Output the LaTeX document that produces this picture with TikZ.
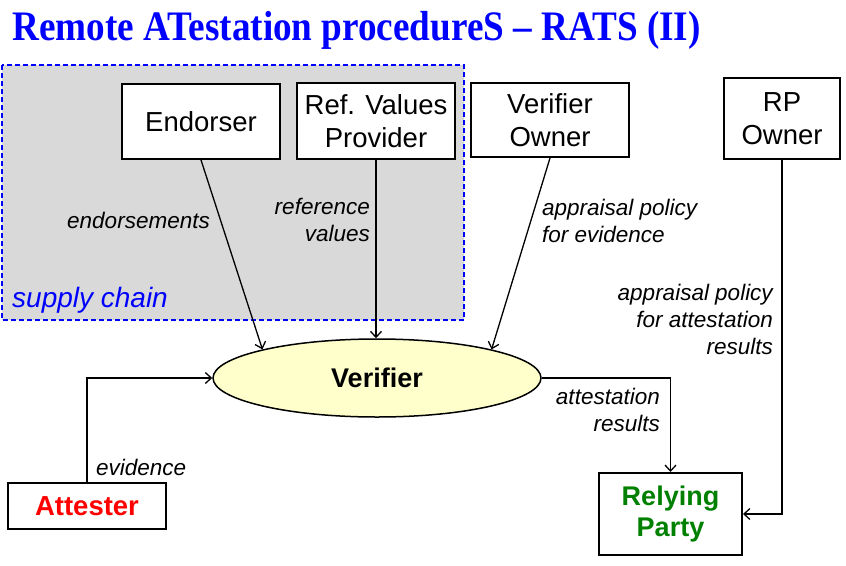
\documentclass[tikz,border=0pt]{standalone}
\usepackage{fontspec}
\setmainfont{Liberation Sans}
\newfontfamily\titlefont{Liberation Serif}
\usetikzlibrary{arrows.meta,shapes.geometric}
\definecolor{ttlblue}{RGB}{0,0,255}
\definecolor{chaingray}{RGB}{217,217,217}
\definecolor{verfill}{RGB}{255,255,204}
\definecolor{attred}{RGB}{255,0,0}
\definecolor{rpgreen}{RGB}{0,128,0}
\begin{document}
\begin{tikzpicture}[x=1pt,y=-1pt,
  boxnode/.style={draw, line width=2pt, fill=white, align=center, inner sep=0pt,
    font=\fontsize{27.5}{33}\selectfont},
  lbl/.style={inner sep=0pt, font=\fontsize{22.5}{27}\selectfont\itshape},
  flow/.style={line width=1.3pt, -{Straight Barb[length=6pt,width=11pt,line width=1.3pt]}}]
\useasboundingbox (0,0) rectangle (846,565);
% title
\node[anchor=base west, inner sep=0pt, text=ttlblue, font=\fontsize{42}{42}\selectfont\titlefont\bfseries] (title) at (12,40)
  {\scalebox{0.885}[1]{Remote ATestation procedureS – RATS (II)}};
% supply chain area
\draw[fill=chaingray, draw=ttlblue, line width=1.5pt, dash pattern=on 5pt off 3pt] (2,65) rectangle (464,320);
\node[anchor=west, inner sep=0pt, text=ttlblue, font=\fontsize{28}{30}\selectfont\itshape] (sc) at (12,300) {supply chain};
% boxes
\node[boxnode, minimum width=158pt, minimum height=75pt] (end) at (201,121.5) {Endorser};
\node[boxnode, minimum width=158pt, minimum height=76pt] (ref) at (376,121) {Ref. Values\\Provider};
\node[boxnode, minimum width=158pt, minimum height=74pt] (vo) at (550,120) {Verifier\\Owner};
\node[boxnode, minimum width=116pt, minimum height=81pt] (rpo) at (782,118.5) {RP\\Owner};
\node[boxnode, minimum width=158pt, minimum height=46pt, text=attred, font=\fontsize{27.5}{33}\selectfont\bfseries] (att) at (87,506) {Attester};
\node[boxnode, minimum width=143pt, minimum height=82pt, text=rpgreen, font=\fontsize{27}{31}\selectfont\bfseries] (rp) at (670.5,514) {Relying\\Party};
\node[ellipse, draw, line width=1.5pt, fill=verfill, minimum width=328pt, minimum height=78pt, inner sep=0pt,
  font=\fontsize{27}{30}\selectfont\bfseries] (ver) at (377,378) {Verifier};
% connectors
\draw[flow] (end.south) -- (ver.166);
\draw[flow] (ref.south) -- (ref.south |- ver.north);
\draw[flow] (vo.south) -- (ver.14);
\draw[flow] (ver.east) -| (rp.north);
\draw[flow] (att.north) |- (ver.west);
\draw[flow] (rpo.south) |- (rp.east);
% labels
\node[lbl, anchor=east] (l1) at (210,220) {endorsements};
\node[lbl, anchor=east, align=right] (l2) at (370,220) {reference\\values};
\node[lbl, anchor=west, align=left] (l3) at (542,220.5) {appraisal policy\\for evidence};
\node[lbl, anchor=east, align=right] (l4) at (773,319.5) {appraisal policy\\for attestation\\results};
\node[lbl, anchor=east, align=right] (l5) at (660,410) {attestation\\results};
\node[lbl, anchor=west] (l6) at (96,467) {evidence};
\end{tikzpicture}
\end{document}
